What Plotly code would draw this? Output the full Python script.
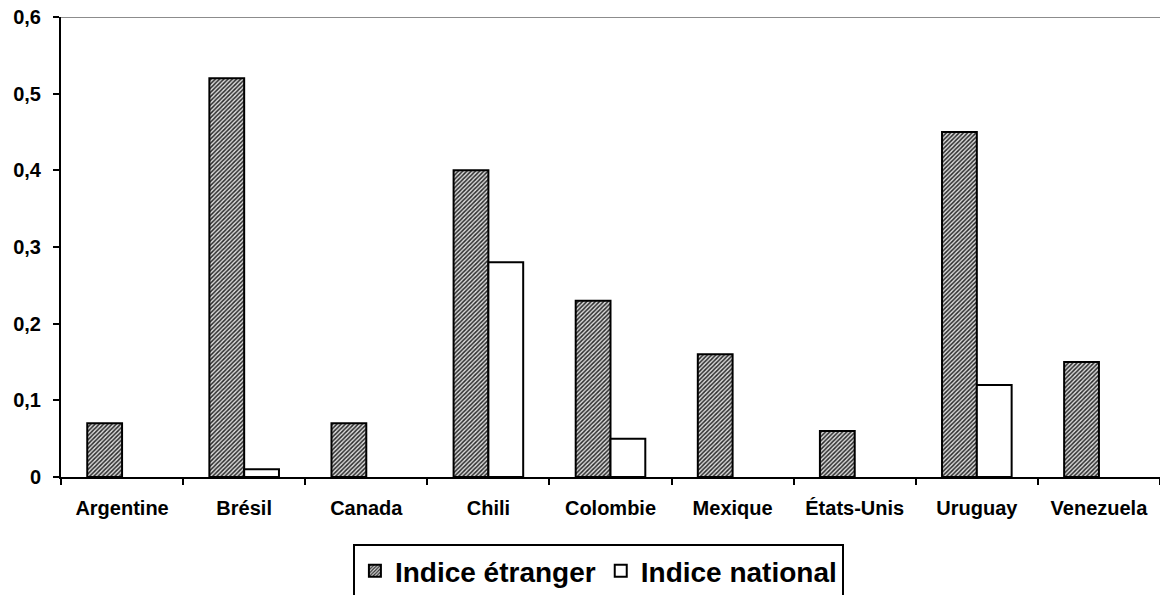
import plotly.graph_objects as go

countries = ["Argentine", "Brésil", "Canada", "Chili", "Colombie",
             "Mexique", "États-Unis", "Uruguay", "Venezuela"]
indice_etranger = [0.07, 0.52, 0.07, 0.40, 0.23, 0.16, 0.06, 0.45, 0.15]
indice_national = [None, 0.01, None, 0.28, 0.05, None, None, 0.12, None]

y_tickvals = [0, 0.1, 0.2, 0.3, 0.4, 0.5, 0.6]
y_ticktext = ["0", "0,1", "0,2", "0,3", "0,4", "0,5", "0,6"]

font_family = "Liberation Sans, Arial, sans-serif"

fig = go.Figure()
fig.add_trace(go.Bar(
    x=countries, y=indice_etranger, name="Indice étranger",
    marker=dict(
        color="#d0d0d0",
        line=dict(color="black", width=2),
        pattern=dict(shape="/", fgcolor="#2a2a2a", bgcolor="#dcdcdc",
                     size=3, solidity=0.5, fillmode="replace"),
    ),
))
fig.add_trace(go.Bar(
    x=countries, y=indice_national, name="Indice national",
    marker=dict(color="white", line=dict(color="black", width=2)),
))

# grey top border of the plot area
fig.add_shape(type="line", xref="paper", yref="y", x0=0, x1=1, y0=0.6, y1=0.6,
              line=dict(color="#8c8c8c", width=2))

fig.update_layout(
    width=1160, height=595,
    margin=dict(l=61, r=0, t=17, b=118, autoexpand=False),
    paper_bgcolor="white", plot_bgcolor="white",
    barmode="group", bargap=0.43, bargroupgap=0,
    font=dict(family=font_family, color="black"),
    showlegend=True,
    legend=dict(
        orientation="h", x=0.489, xanchor="center", y=-0.146, yanchor="top",
        font=dict(size=28, family=font_family, weight="bold"),
        bordercolor="black", borderwidth=2, bgcolor="white",
        itemwidth=30, tracegroupgap=0,
    ),
    xaxis=dict(
        type="category", tickson="boundaries",
        showline=True, linecolor="black", linewidth=2,
        ticks="outside", ticklen=6, tickwidth=2, tickcolor="black",
        ticklabelstandoff=12,
        tickfont=dict(size=20, family=font_family, weight="bold"),
        showgrid=False, zeroline=False,
    ),
    yaxis=dict(
        range=[0, 0.6], tickvals=y_tickvals, ticktext=y_ticktext,
        showline=True, linecolor="black", linewidth=2,
        ticks="outside", ticklen=6, tickwidth=2, tickcolor="black",
        ticklabelstandoff=8,
        tickfont=dict(size=20, family=font_family, weight="bold"),
        showgrid=False, zeroline=False,
    ),
)

fig.write_html("out.html")
